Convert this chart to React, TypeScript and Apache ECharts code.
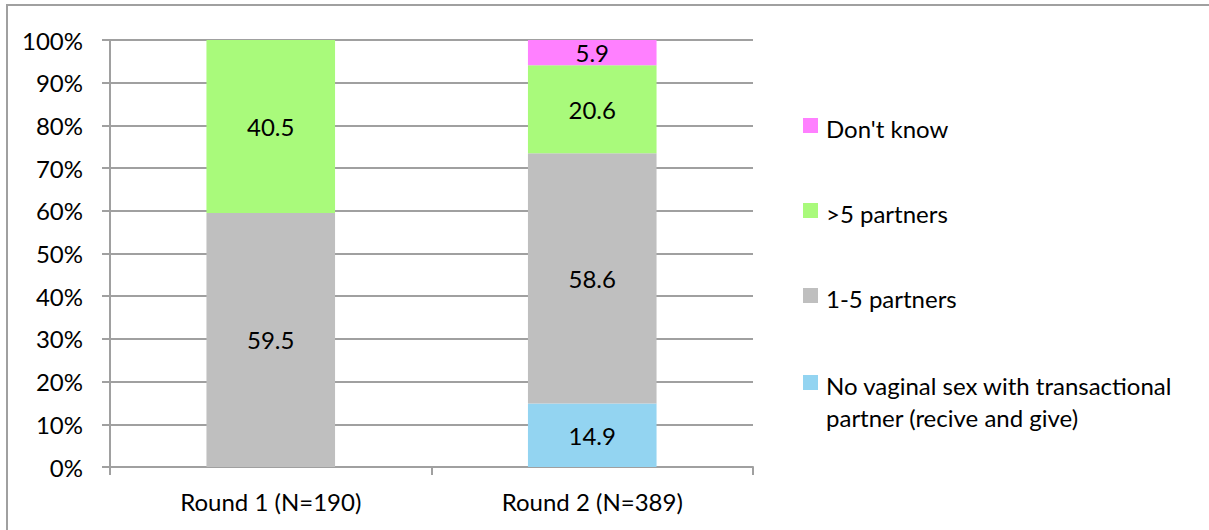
import React, { useEffect, useRef } from "react";
import * as echarts from "echarts";

// Categories and stacked shares (percent of respondents)
const categories = ["Round 1 (N=190)", "Round 2 (N=389)"];
const noVaginalSex: (number | null)[] = [null, 14.9];
const oneToFive: (number | null)[] = [59.5, 58.6];
const moreThanFive: (number | null)[] = [40.5, 20.6];
const dontKnow: (number | null)[] = [null, 5.9];

const seriesNames = [
  "No vaginal sex with transactional\npartner (recive and give)",
  "1-5 partners",
  ">5 partners",
  "Don't know",
];
const seriesColors = ["#93D4F1", "#BFBFBF", "#A9FA7B", "#FF80FF"];
const seriesData = [noVaginalSex, oneToFive, moreThanFive, dontKnow];

const FONT = "Lato";
const FONT_SIZE = 24;
const GRID_COLOR = "#A0A0A0";

export default function App() {
  const ref = useRef<HTMLDivElement>(null);

  useEffect(() => {
    document.body.style.margin = "0";
    if (!ref.current) return;
    const chart = echarts.init(ref.current, undefined, { renderer: "svg" });

    // Legend drawn top-down in reverse stacking order
    const legendTops = [118, 203, 288, 375];
    const legendItems: any[] = [];
    [3, 2, 1, 0].forEach((si, i) => {
      const top = legendTops[i];
      legendItems.push({
        type: "rect",
        shape: { x: 803, y: top, width: 15, height: 15 },
        style: { fill: seriesColors[si] },
      });
      legendItems.push({
        type: "text",
        x: 826,
        y: top - 6,
        style: {
          text: seriesNames[si],
          font: `${FONT_SIZE}px ${FONT}`,
          fill: "#000",
          lineHeight: 32,
          textVerticalAlign: "top",
        },
      });
    });

    chart.setOption({
      animation: false,
      textStyle: { fontFamily: FONT },
      grid: { left: 110, top: 40, right: 456, bottom: 63, containLabel: false },
      xAxis: {
        type: "category",
        data: categories,
        axisLine: { lineStyle: { color: GRID_COLOR, width: 2 } },
        axisTick: { show: true, length: 8, lineStyle: { color: GRID_COLOR, width: 2 } },
        axisLabel: { color: "#000", fontSize: FONT_SIZE, fontFamily: FONT, margin: 22 },
      },
      yAxis: {
        type: "value",
        min: 0,
        max: 100,
        interval: 10,
        axisLine: { show: true, lineStyle: { color: GRID_COLOR, width: 2 } },
        axisTick: { show: true, length: 8, lineStyle: { color: GRID_COLOR, width: 2 } },
        splitLine: { lineStyle: { color: GRID_COLOR, width: 2 } },
        axisLabel: {
          color: "#000",
          fontSize: FONT_SIZE,
          fontFamily: FONT,
          margin: 27,
          formatter: "{value}%",
        },
      },
      series: seriesData.map((d, i) => ({
        name: seriesNames[i],
        type: "bar",
        stack: "total",
        barWidth: "40%",
        data: d,
        itemStyle: { color: seriesColors[i] },
        label: {
          show: true,
          position: "inside",
          color: "#000",
          fontSize: FONT_SIZE,
          fontFamily: FONT,
          formatter: (p: any) => (p.value == null ? "" : String(p.value)),
        },
      })),
      graphic: [
        {
          type: "rect",
          shape: { x: 7, y: 5, width: 1400, height: 800 },
          style: { fill: "none", stroke: GRID_COLOR, lineWidth: 2 },
          silent: true,
        },
        ...legendItems,
      ],
    });

    return () => chart.dispose();
  }, []);

  return <div ref={ref} style={{ width: 1209, height: 530 }} />;
}
